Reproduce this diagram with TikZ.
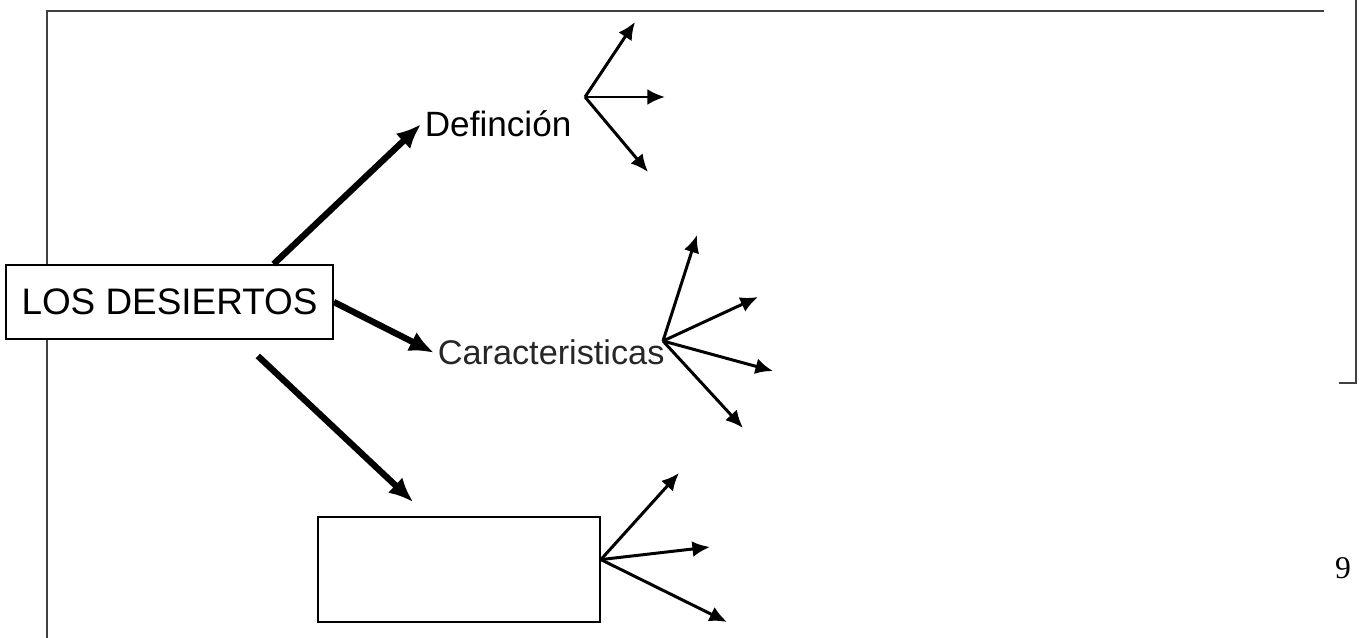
\documentclass[tikz,border=0pt]{standalone}
\usepackage{fontspec}
\setmainfont{Liberation Sans}
\newfontfamily\pagefont{Liberation Serif}
\usetikzlibrary{arrows.meta}

\begin{document}
\begin{tikzpicture}[
x=0.02cm, y=-0.02cm,
frame/.style={
  draw=black!75,
  line width=1.4pt
},
box/.style={
  draw,
  fill=white,
  line width=1pt,
  inner sep=0pt,
  font=\fontsize{21}{24}\selectfont
},
topic/.style={
  inner sep=2pt,
  font=\fontsize{20}{24}\selectfont
},
branch/.style={
  line width=3.6pt,
  -{Latex[length=14pt,width=12pt]}
},
fan/.style={
  line width=1.7pt,
  -{Latex[length=10pt,width=9pt]}
}
]
\useasboundingbox (0,0) rectangle (1359,638);

% page frame
\draw[frame] (47,638) -- (47,11) -- (1324,11);
\draw[frame] (1356,0) -- (1356,383) -- (1339,383);
\node[font=\pagefont\fontsize{18}{20}\selectfont] (page) at (1343,568) {9};

% boxes and topics
\node[box,minimum width=6.54cm,minimum height=1.48cm] at (169.5,302)
  (desiertos) {LOS DESIERTOS};
\node[box,minimum width=5.64cm,minimum height=2.1cm] at (459,569.5)
  (blank) {};
\node[topic,anchor=base west] at (421,137)
  (def) {Definción};
\node[topic,anchor=base west,text=black!85,font=\fontsize{19.5}{24}\selectfont] at (434,365)
  (car) {Caracteristicas};

\draw[branch] (desiertos.20) -- (def.west);
\draw[branch] (desiertos.east) -- (car.west);
\draw[branch,shorten <=0.47cm,shorten >=0.41cm] (desiertos.-28) -- (blank.120);

% fans
\coordinate (defhub) at (585,97);
\coordinate (carhub) at (663,341);
\coordinate (boxhub) at (blank.4);
\foreach \n/\x/\y in {d1/635/22,d2/665/97,d3/648/172,
                      c1/697/235,c2/758/297,c3/773/371,c4/743/428,
                      b1/679/473,b2/710/547,b3/727/622}
  \coordinate (\n) at (\x,\y);

\foreach \n in {d1,d2,d3}
  \draw[fan] (defhub) -- (\n);
\foreach \n in {c1,c2,c3,c4}
  \draw[fan] (carhub) -- (\n);
\foreach \n in {b1,b2,b3}
  \draw[fan] (boxhub) -- (\n);

\end{tikzpicture}
\end{document}
